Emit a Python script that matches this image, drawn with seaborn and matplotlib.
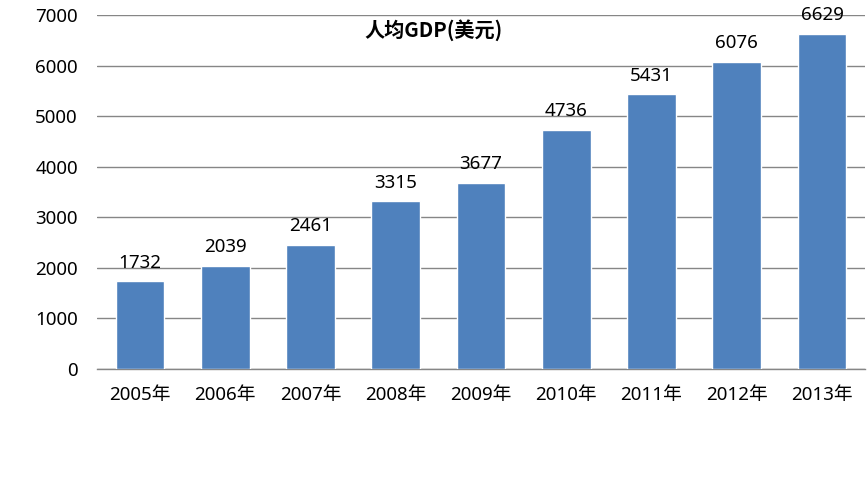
import matplotlib
matplotlib.use("Agg")
import matplotlib.pyplot as plt
import seaborn as sns
import pandas as pd

years = ["2005年", "2006年", "2007年", "2008年", "2009年", "2010年", "2011年", "2012年", "2013年"]
gdp = [1732, 2039, 2461, 3315, 3677, 4736, 5431, 6076, 6629]
yticks = [0, 1000, 2000, 3000, 4000, 5000, 6000, 7000]
title = "人均GDP(美元)"

sns.set_theme(style="white")
plt.rcParams['font.family'] = ['Noto Sans', 'Noto Sans CJK SC', 'DejaVu Sans']
plt.rcParams['text.color'] = 'black'

df = pd.DataFrame({"year": years, "gdp": gdp})

fig = plt.figure(figsize=(8.67, 4.78), dpi=100)
ax = fig.add_axes([0.1123, 0.228, 0.8849, 0.7406])

sns.barplot(data=df, x="year", y="gdp", color="#4F81BD", saturation=1, width=0.57, ax=ax, zorder=3)

ax.set_ylim(0, 7000)
ax.set_yticks(yticks)
ax.set_yticklabels([str(v) for v in yticks])
ax.set_xlim(-0.5, len(years) - 0.5)
ax.yaxis.grid(True, color="#868686", linewidth=1, zorder=0)
ax.set_axisbelow(True)
for s in ["left", "right", "top"]:
    ax.spines[s].set_visible(False)
ax.spines["bottom"].set_color("#868686")
ax.spines["bottom"].set_linewidth(1)
ax.tick_params(axis="both", length=0, labelsize=13.5, colors="black")
ax.tick_params(axis="y", pad=14)
ax.tick_params(axis="x", pad=12)
ax.set_xlabel("")
ax.set_ylabel("")

for c in ax.containers:
    ax.bar_label(c, labels=[str(v) for v in gdp], padding=7, fontsize=13.5, color="black")

ax.text(0.4375, 0.957, title, transform=ax.transAxes, ha="center", va="center",
        fontsize=14.5, fontweight="bold", color="black", family=['Noto Sans CJK SC', 'DejaVu Sans'])

fig.savefig("out.png", dpi=100)
